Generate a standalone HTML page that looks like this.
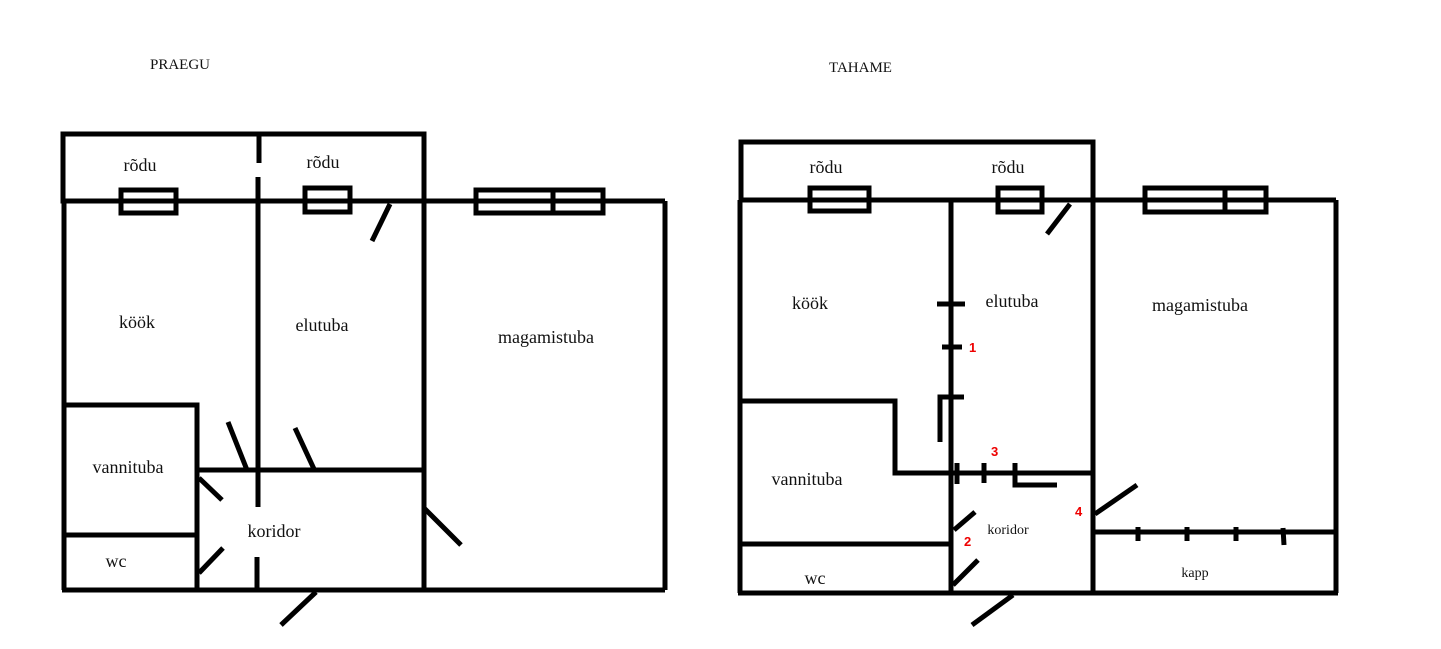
<!DOCTYPE html>
<html><head><meta charset="utf-8"><style>
html,body{margin:0;padding:0;background:#fff;}
svg{display:block;}
text{font-family:"Liberation Serif",serif;fill:#111;}
.r{font-family:"Liberation Sans",sans-serif;fill:#e00;font-weight:bold;font-size:13px;}
</style></head><body>
<svg width="1441" height="649" viewBox="0 0 1441 649" xmlns="http://www.w3.org/2000/svg">
<g stroke="#000" stroke-width="5" fill="none" stroke-linecap="butt">
<!-- LEFT PLAN -->
<rect x="63" y="134" width="361" height="67"/>
<line x1="63" y1="201" x2="665" y2="201"/>
<line x1="64" y1="201" x2="64" y2="590"/>
<line x1="62" y1="590" x2="665" y2="590"/>
<line x1="665" y1="201" x2="665" y2="590"/>
<line x1="424" y1="134" x2="424" y2="590"/>
<line x1="259" y1="134" x2="259" y2="163"/>
<line x1="258" y1="177" x2="258" y2="507"/>
<line x1="257" y1="557" x2="257" y2="590"/>
<rect x="121" y="190" width="55" height="23"/>
<rect x="305" y="188" width="45" height="24"/>
<rect x="476" y="190" width="77" height="23"/>
<rect x="553" y="190" width="50" height="23"/>
<line x1="390" y1="204" x2="372" y2="241"/>
<rect x="64" y="405" width="133" height="130"/>
<line x1="197" y1="470" x2="197" y2="590"/>
<line x1="197" y1="470" x2="424" y2="470"/>
<line x1="228" y1="422" x2="247" y2="470"/>
<line x1="295" y1="428" x2="314" y2="469"/>
<line x1="199" y1="478" x2="222" y2="500"/>
<line x1="199" y1="573" x2="223" y2="548"/>
<line x1="424" y1="508" x2="461" y2="545"/>
<line x1="316" y1="592" x2="281" y2="625"/>

<!-- RIGHT PLAN -->
<rect x="741" y="142" width="352" height="58"/>
<line x1="740" y1="200" x2="1336" y2="200"/>
<line x1="740" y1="200" x2="740" y2="593"/>
<line x1="738" y1="593" x2="1338" y2="593"/>
<line x1="1336" y1="200" x2="1336" y2="593"/>
<line x1="1093" y1="142" x2="1093" y2="593"/>
<line x1="951" y1="200" x2="951" y2="593"/>
<rect x="810" y="188" width="59" height="23"/>
<rect x="998" y="188" width="44" height="24"/>
<rect x="1145" y="188" width="80" height="24"/>
<rect x="1225" y="188" width="41" height="24"/>
<line x1="1070" y1="204" x2="1047" y2="234"/>
<polyline points="740,401 895,401 895,473 1093,473"/>
<line x1="740" y1="544" x2="951" y2="544"/>
<line x1="1093" y1="532" x2="1336" y2="532"/>
<line x1="1138" y1="527" x2="1138" y2="541"/>
<line x1="1187" y1="527" x2="1187" y2="541"/>
<line x1="1236" y1="527" x2="1236" y2="541"/>
<line x1="1283" y1="528" x2="1284" y2="545"/>
<line x1="937" y1="304" x2="965" y2="304"/>
<line x1="942" y1="347" x2="962" y2="347"/>
<polyline points="940,442 940,397 964,397"/>
<line x1="957" y1="463" x2="957" y2="484"/>
<line x1="984" y1="463" x2="984" y2="483"/>
<polyline points="1015,463 1015,485 1057,485"/>
<line x1="975" y1="512" x2="954" y2="530"/>
<line x1="978" y1="560" x2="953" y2="585"/>
<line x1="1013" y1="595" x2="972" y2="625"/>
<line x1="1137" y1="485" x2="1095" y2="514"/>
</g>

<text x="150" y="69" font-size="15">PRAEGU</text>
<text x="829" y="72" font-size="15">TAHAME</text>

<g font-size="18" text-anchor="middle">
<text x="140" y="171">rõdu</text>
<text x="323" y="168">rõdu</text>
<text x="137" y="328">köök</text>
<text x="322" y="331">elutuba</text>
<text x="546" y="343">magamistuba</text>
<text x="128" y="473">vannituba</text>
<text x="274" y="537">koridor</text>
<text x="116" y="567">wc</text>

<text x="826" y="173">rõdu</text>
<text x="1008" y="173">rõdu</text>
<text x="810" y="309">köök</text>
<text x="1012" y="307">elutuba</text>
<text x="1200" y="311">magamistuba</text>
<text x="807" y="485">vannituba</text>
<text x="815" y="584">wc</text>
</g>
<text x="1008" y="534" font-size="14" text-anchor="middle">koridor</text>
<text x="1195" y="577" font-size="14" text-anchor="middle">kapp</text>

<text class="r" x="969" y="352">1</text>
<text class="r" x="991" y="456">3</text>
<text class="r" x="964" y="546">2</text>
<text class="r" x="1075" y="516">4</text>
</svg>
</body></html>
